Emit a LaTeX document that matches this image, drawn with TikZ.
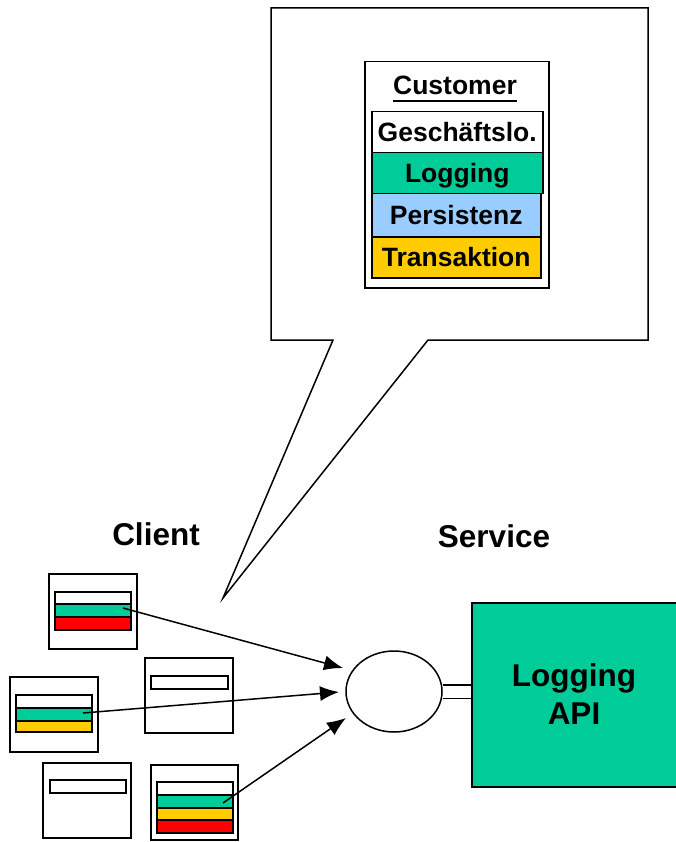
\documentclass[tikz,border=0pt]{standalone}
\usepackage{fontspec}
\setmainfont{Liberation Sans}
\usetikzlibrary{arrows.meta,shapes.geometric}
\definecolor{lgreen}{RGB}{0,204,153}
\definecolor{lblue}{RGB}{153,204,255}
\definecolor{lyellow}{RGB}{255,204,0}
\definecolor{lred}{RGB}{255,0,0}
\begin{document}
\begin{tikzpicture}[x=1pt,y=-1pt,line join=miter,
  big/.style={font=\fontsize{31.5}{38}\selectfont\bfseries},
  stacktxt/.style={font=\fontsize{26.5}{30}\selectfont\bfseries},
  row/.style={draw,line width=1.5pt,anchor=north west,inner sep=0pt,
    minimum height=41pt,text height=19pt,text depth=0pt,stacktxt},
  cbox/.style={draw,line width=1.6pt,fill=white,anchor=north west,
    minimum width=88pt,minimum height=75pt,inner sep=0pt},
  stripe/.style={draw,line width=1.5pt,anchor=north west,inner sep=0pt,
    minimum width=76pt},
  conn/.style={line width=1.5pt,-{Latex[length=19pt,width=15pt]}}
]
\useasboundingbox (0,0) rectangle (676,842);

% callout
\coordinate (tip) at (223,598);
\draw[line width=1.5pt,fill=white] (271,8) -- (648,8) -- (648,340) -- (428,340)
  -- (tip) -- (333,340) -- (271,340) -- cycle;

% customer stack
\node[draw,line width=1.5pt,anchor=north west,minimum width=184pt,
  minimum height=226pt,inner sep=0pt] (cust) at (364,61) {};
\node[stacktxt,anchor=base,inner sep=0pt] (custlbl) at (455,95) {Customer};
\draw[line width=2.2pt] ([yshift=-6pt]custlbl.base west) -- ([yshift=-6pt]custlbl.base east);
\node[row,minimum width=171pt,fill=white] (geschaeft) at (371,111) {Geschäftslo.};
\node[row,minimum width=171pt,fill=lgreen] (logrow) at (371,152) {Logging};
\node[row,minimum width=169pt,fill=lblue,minimum height=43pt] (pers) at (371,193) {Persistenz};
\node[row,minimum width=169pt,fill=lyellow] (trans) at (371,236) {Transaktion};

% labels
\node[big,anchor=base] (client) at (156,545) {Client};
\node[big,anchor=base] (service) at (494,547) {Service};

% client boxes
\node[cbox] (ba) at (48,573) {};
\node[stripe,fill=white,minimum height=12pt] (baw) at (54,591) {};
\node[stripe,fill=lgreen,minimum height=13pt] (bag) at (54,603) {};
\node[stripe,fill=lred,minimum height=13pt] (bar) at (54,616) {};

\node[cbox] (bb) at (9,676) {};
\node[stripe,fill=white,minimum height=13pt] (bbw) at (15,694) {};
\node[stripe,fill=lgreen,minimum height=13pt] (bbg) at (15,707) {};
\node[stripe,fill=lyellow,minimum height=11pt] (bby) at (15,720) {};

\node[cbox] (bc) at (144,657) {};
\node[stripe,fill=white,minimum height=13pt,minimum width=77pt] (bcw) at (150,675) {};

\node[cbox] (bd) at (42,762) {};
\node[stripe,fill=white,minimum height=13pt] (bdw) at (49,779) {};

\node[cbox,minimum width=87pt] (be) at (150,764) {};
\node[stripe,fill=white,minimum height=13pt] (bew) at (156,781) {};
\node[stripe,fill=lgreen,minimum height=13pt] (beg) at (156,794) {};
\node[stripe,fill=lyellow,minimum height=12pt] (bey) at (156,807) {};
\node[stripe,fill=lred,minimum height=13pt] (ber) at (156,819) {};

% service
\node[ellipse,draw,line width=1.5pt,fill=white,minimum width=96pt,
  minimum height=81pt,inner sep=0pt] (ell) at (394,691.5) {};
\node[draw,line width=1.5pt,fill=lgreen,anchor=north west,minimum width=212pt,
  minimum height=184pt,inner sep=0pt] (api) at (471,602) {};
\node[big,align=center,inner sep=0pt] (apilbl) at (574,694) {Logging\\API};
\draw[line width=1.5pt,double distance=12pt] (ell.east) -- (ell.east -| api.west);

% connectors
\coordinate (sa) at (123,608);
\coordinate (sb) at (83,713);
\coordinate (se) at (223,803);
\coordinate (ta) at (343,668);
\coordinate (tb) at (339,692);
\coordinate (te) at (346,718);
\draw[conn] (sa) -- (ta);
\draw[conn] (sb) -- (tb);
\draw[conn] (se) -- (te);
\end{tikzpicture}
\end{document}
